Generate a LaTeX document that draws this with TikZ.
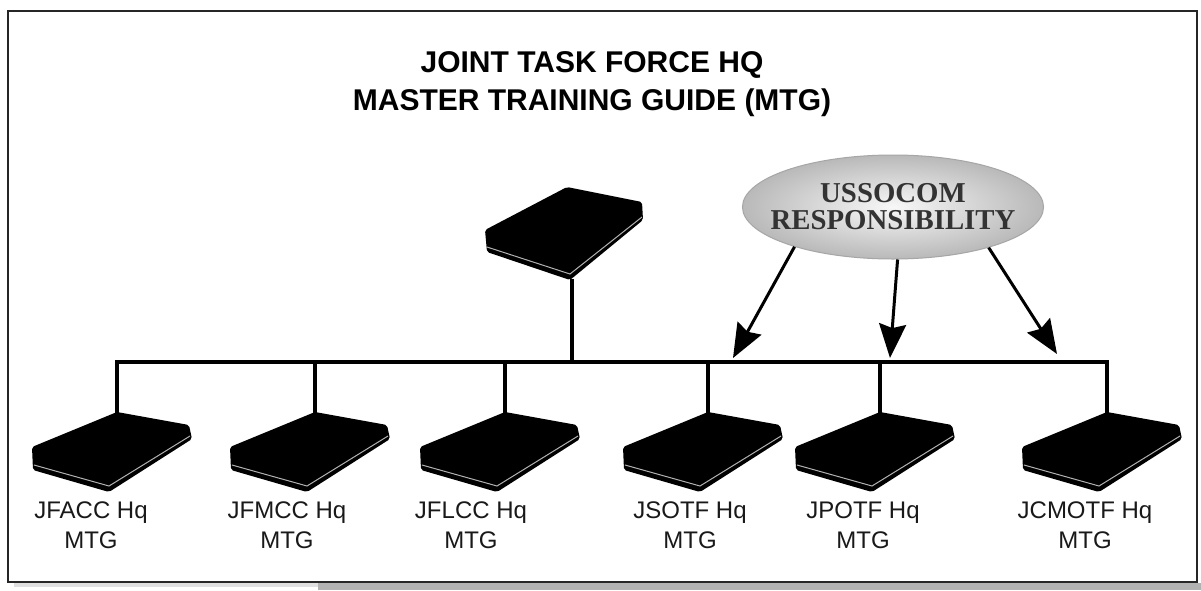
\documentclass[tikz,border=0pt]{standalone}
\usepackage{fontspec}
\setmainfont{Liberation Sans}
\newfontfamily\ellserif{Liberation Serif}
\usetikzlibrary{arrows.meta,shapes.geometric}
\begin{document}
\begin{tikzpicture}[x=0.5pt,y=-0.5pt,
  wire/.style={line width=1.6pt, black},
  resp/.style={line width=1.5pt, -{Stealth[length=17pt,width=13.5pt,inset=2pt]}},
  lbl/.style={font=\fontsize{12pt}{15pt}\selectfont, align=center, inner sep=0pt, text=black!90},
  ttl/.style={font=\fontsize{15pt}{19pt}\selectfont\bfseries, align=center, inner sep=0pt},
  oval/.style={ellipse, minimum width=150pt, minimum height=52pt, inner xsep=-8pt, inner ysep=0pt,
    shading=radial, inner color=gray!6, outer color=gray!55, draw=gray!70, line width=0.5pt,
    align=center, text=black!80, font=\ellserif\bfseries\fontsize{14.4pt}{13.5pt}\selectfont},
  book/.pic={
    \fill[black, rounded corners=1pt] (0,0) -- (72,13) -- (75,27) -- (-8,80) -- (-84,58) -- (-85,35) -- cycle;
    \draw[gray!60, line width=0.5pt] (-83,53) -- (-8,74) -- (73,24);
  },
  topbook/.pic={
    \fill[black, rounded corners=1pt] (0,0) -- (75,15) -- (76,33) -- (3,93) -- (-80,65) -- (-82,43) -- cycle;
    \draw[gray!60, line width=0.5pt] (-80,60) -- (3,87) -- (75,30);
  }
]
\useasboundingbox (0,0) rectangle (1201,590);
\fill[white] (0,0) rectangle (1201,590);
% shadow and frame
\fill[gray!25] (14,583) rectangle (318,587);
\fill[gray!60] (318,583) rectangle (1201,590);
\draw[line width=1.1pt, black!85] (8,11) rectangle (1197,582);

% title
\node[ttl] (title) at (592,84) {JOINT TASK FORCE HQ\\MASTER TRAINING GUIDE (MTG)};

% top book
\pic at (567,187) {topbook};
\coordinate (topstem) at (572,279);
\coordinate (hub) at (572,362);

% bottom books apex coordinates and bus junctions
\foreach \i/\x in {1/117,2/315,3/505,4/708,5/880,6/1107}{
  \coordinate (b\i) at (\x,414);
  \coordinate (j\i) at (\x,362);
  \pic at (\x,412) {book};
}

% bus
\draw[wire] (b1) -- (j1) -- (j6) -- (b6);
\foreach \i in {2,3,4,5}{ \draw[wire] (j\i) -- (b\i); }
\draw[wire] (topstem) -- (hub);

% labels
\node[lbl] (l1) at (91,525) {JFACC Hq\\MTG};
\node[lbl] (l2) at (287,525) {JFMCC Hq\\MTG};
\node[lbl] (l3) at (471,525) {JFLCC Hq\\MTG};
\node[lbl] (l4) at (690,525) {JSOTF Hq\\MTG};
\node[lbl] (l5) at (863,525) {JPOTF Hq\\MTG};
\node[lbl] (l6) at (1085,525) {JCMOTF Hq\\MTG};

% ellipse
\node[oval] (uss) at (893,207) {USSOCOM\\RESPONSIBILITY};
\coordinate (t1) at (733,358);
\coordinate (t2) at (890,358);
\coordinate (t3) at (1057,354);
\draw[resp] (uss.202) -- (t1);
\draw[resp] (uss.275) -- (t2);
\draw[resp] (uss.337) -- (t3);
\end{tikzpicture}
\end{document}
